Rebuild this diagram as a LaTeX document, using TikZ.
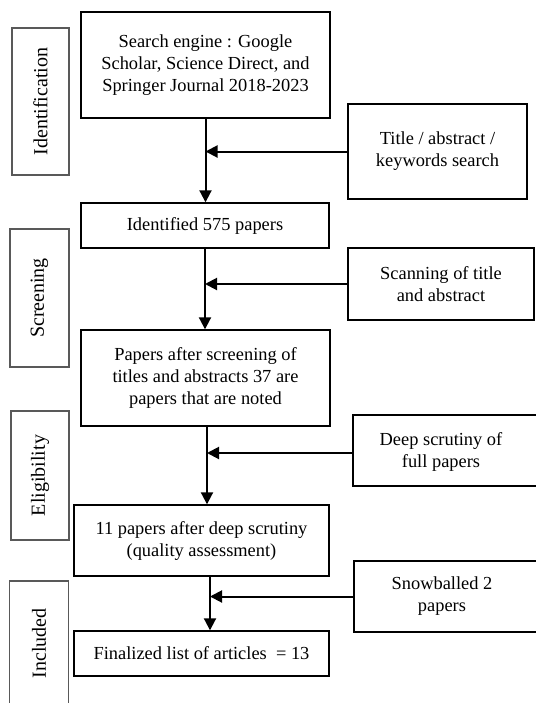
\documentclass[tikz,border=0pt]{standalone}
\usepackage{fontspec}
\setmainfont{Liberation Serif}
\usetikzlibrary{arrows.meta}

\begin{document}
\begin{tikzpicture}[x=0.5pt,y=-0.5pt,
    >={Triangle[length=6pt,width=6pt]},
    box/.style={draw,line width=0.7pt,align=center,inner sep=0pt,
      font=\fontsize{9.2}{11}\selectfont},
    stage/.style={draw=black!65,line width=0.6pt,rotate=90,inner sep=0pt,
      font=\fontsize{10}{12}\selectfont},
    flow/.style={->,line width=1pt}]
  \useasboundingbox (0,0) rectangle (536,703);
  \clip (0,0) rectangle (536,703);

  % stages on the left
  \node[stage,minimum width=73.5pt,minimum height=28.5pt] (ident) at (40.5,101.5) {Identification};
  \node[stage,minimum width=69pt,minimum height=29.5pt] (screen) at (39.5,298) {Screening};
  \node[stage,minimum width=64.5pt,minimum height=29pt] (elig) at (40,475.5) {Eligibility};
  \node[stage,minimum width=62.5pt,minimum height=29.5pt] (incl) at (39,643.5) {Included};

  % main column
  \node[box,minimum width=124.5pt,minimum height=53pt] (search) at (205.5,65)
    {Search engine : Google\\Scholar, Science Direct, and\\Springer Journal 2018-2023};
  \node[box,minimum width=124pt,minimum height=22.5pt] (found) at (205,225.5)
    {Identified 575 papers};
  \node[box,minimum width=124.5pt,minimum height=48pt] (screened) at (205.5,378)
    {Papers after screening of\\titles and abstracts 37 are\\papers that are noted};
  \node[box,minimum width=127.5pt,minimum height=35.5pt] (assessed) at (201.5,540.5)
    {11 papers after deep scrutiny\\(quality assessment)};
  \node[box,minimum width=127.5pt,minimum height=22.5pt] (final) at (201.5,653.5)
    {Finalized list of articles~ = 13};

  % side boxes
  \node[box,minimum width=89.5pt,minimum height=47.5pt] (keywords) at (437.5,151.5)
    {Title / abstract /\\keywords search};
  \node[box,minimum width=93pt,minimum height=36pt] (scan) at (441,284)
    {Scanning of title\\and abstract};
  \node[box,minimum width=108.5pt,minimum height=35.5pt] (deep) at (461.5,450.5) {};
  \node[align=center,inner sep=0pt,font=\fontsize{9.2}{11}\selectfont] (deeptext) at (441,451.5)
    {Deep scrutiny of\\full papers};
  \node[box,minimum width=108pt,minimum height=35.5pt] (snow) at (462,596.5) {};
  \node[align=center,inner sep=0pt,font=\fontsize{9.2}{11}\selectfont] (snowtext) at (442,596)
    {Snowballed 2\\papers};

  % arrows
  \draw[flow] (search.south) -- (search.south |- found.north);
  \draw[flow] (keywords.west) -- (keywords.west -| search.south);
  \draw[flow] (found.south) -- (found.south |- screened.north);
  \draw[flow] (scan.west) -- (scan.west -| found.south);
  \draw[flow] ([xshift=0.75pt]screened.south) -- ([xshift=0.75pt]screened.south |- assessed.north);
  \draw[flow] ([yshift=-1.25pt]deep.west) -- ([yshift=-1.25pt,xshift=0.75pt]deep.west -| screened.south);
  \draw[flow] ([xshift=4.25pt]assessed.south) -- ([xshift=4.25pt]assessed.south |- final.north);
  \draw[flow] (snow.west) -- ([xshift=4.25pt]snow.west -| assessed.south);
\end{tikzpicture}
\end{document}
